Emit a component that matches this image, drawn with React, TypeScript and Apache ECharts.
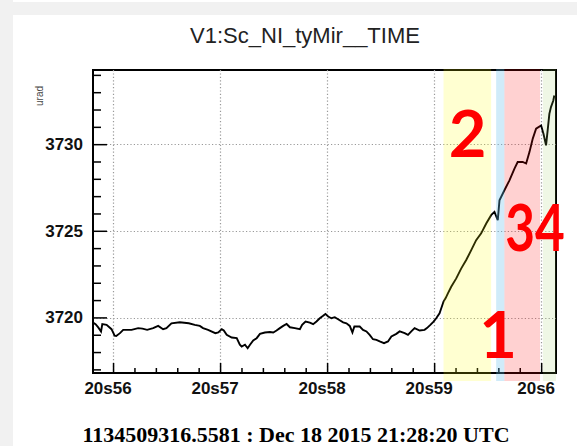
import React, { useEffect, useRef } from "react";
import * as echarts from "echarts";

// time in seconds after 21:20:00 ... displayed as "20sNN"
const times = [
  55.808, 55.832, 55.857, 55.883, 55.895, 55.935, 55.981, 56.01, 56.025, 56.06,
  56.09, 56.168, 56.23, 56.27, 56.314, 56.37, 56.417, 56.463, 56.494, 56.541,
  56.619, 56.66, 56.703, 56.759, 56.806, 56.836, 56.883, 56.951, 56.979, 57.011,
  57.03, 57.057, 57.104, 57.151, 57.18, 57.197, 57.228, 57.253, 57.275, 57.305,
  57.337, 57.368, 57.414, 57.461, 57.492, 57.523, 57.554, 57.585, 57.617, 57.648,
  57.694, 57.741, 57.762, 57.794, 57.834, 57.865, 57.896, 57.927, 57.958, 57.98,
  58.005, 58.036, 58.067, 58.098, 58.145, 58.176, 58.207, 58.232, 58.25, 58.27,
  58.3, 58.331, 58.363, 58.393, 58.424, 58.456, 58.487, 58.527, 58.564, 58.596,
  58.642, 58.673, 58.72, 58.751, 58.782, 58.813, 58.86, 58.906, 58.928, 58.96,
  58.99, 59.015, 59.046, 59.062, 59.083, 59.102, 59.124, 59.155, 59.202, 59.249,
  59.295, 59.342, 59.388, 59.435, 59.482, 59.528, 59.559, 59.59, 59.606, 59.652,
  59.699, 59.746, 59.776, 59.823, 59.855, 59.886, 59.917, 59.948, 59.995, 60.017,
  60.041, 60.056, 60.072, 60.087, 60.109, 60.118,
];
const values = [
  3719.73, 3719.64, 3719.45, 3719.21, 3719.64, 3719.6, 3719.35, 3718.98, 3718.96, 3719.12,
  3719.31, 3719.31, 3719.41, 3719.38, 3719.31, 3719.41, 3719.54, 3719.35, 3719.41, 3719.69,
  3719.75, 3719.72, 3719.69, 3719.6, 3719.54, 3719.41, 3719.31, 3719.12, 3719.16, 3719.35,
  3719.27, 3719.02, 3718.87, 3718.83, 3718.45, 3718.35, 3718.45, 3718.25, 3718.45, 3718.7,
  3718.83, 3719.08, 3719.16, 3719.19, 3719.16, 3719.27, 3719.41, 3719.54, 3719.65, 3719.46,
  3719.41, 3719.35, 3719.6, 3719.79, 3719.73, 3719.64, 3719.79, 3719.98, 3720.12, 3720.23,
  3720.08, 3719.98, 3720.04, 3719.92, 3719.74, 3719.69, 3719.54, 3719.16, 3719.5, 3719.5,
  3719.5, 3719.31, 3719.22, 3719.02, 3718.77, 3718.73, 3718.64, 3718.54, 3718.64, 3718.93,
  3719.08, 3719.22, 3719.12, 3719.02, 3719.22, 3719.41, 3719.27, 3719.31, 3719.41, 3719.6,
  3719.79, 3719.98, 3720.27, 3720.56, 3720.94, 3721.13, 3721.42, 3721.8, 3722.28, 3722.86,
  3723.34, 3723.91, 3724.49, 3724.88, 3725.45, 3725.93, 3726.12, 3725.64, 3726.79, 3727.37,
  3727.94, 3728.62, 3729.0, 3729.0, 3728.91, 3729.57, 3730.35, 3730.92, 3731.11, 3730.63,
  3729.96, 3730.82, 3731.78, 3732.17, 3732.55, 3732.84,
];

const xTickValues = [56, 57, 58, 59, 60];
const xTickLabels = ["20s56", "20s57", "20s58", "20s59", "20s6"];
const yTickValues = [3720, 3725, 3730];

// highlighted time segments (annotation bands)
const bandStarts = [59.083, 59.575, 59.652, 60.012];
const bandEnds = [59.528, 59.652, 59.985, 60.134];
const bandColors = [
  "rgba(255,255,0,0.18)",
  "rgba(100,190,235,0.3)",
  "rgba(255,0,0,0.18)",
  "rgba(150,200,80,0.15)",
];

const X_MIN = 55.808;
const X_MAX = 60.134;
const Y_MIN = 3716.82;
const Y_MAX = 3734.31;

const title = "V1:Sc_NI_tyMir__TIME";
const yUnit = "urad";
const footer = "1134509316.5581 : Dec 18 2015 21:28:20 UTC";

const near = (a: number, b: number) => Math.abs(a - b) < 1e-6;

// tick positions: majors plus 5 subdivisions on x, 1-unit steps on y
const xTicks: number[][] = [];
for (let i = 0; i < xTickValues.length; i++) {
  xTicks.push([xTickValues[i], 1]);
  if (i < xTickValues.length - 1) {
    for (let k = 1; k < 5; k++) xTicks.push([+(xTickValues[i] + k * 0.2).toFixed(3), 0]);
  }
}
const yTicks: number[][] = [];
for (let v = Math.ceil(Y_MIN); v <= Math.floor(Y_MAX); v++) {
  yTicks.push([v, yTickValues.includes(v) ? 1 : 0]);
}

export default function App() {
  const ref = useRef<HTMLDivElement>(null);
  useEffect(() => {
    if (!ref.current) return;
    const chart = echarts.init(ref.current, null, { renderer: "svg" });
    const lineData = times.map((t, i) => [t, values[i]]);
    const bandData = bandStarts.map((s, i) => [s, bandEnds[i]]);
    const labelFont = {
      fontFamily: "Liberation Sans, Arial, sans-serif",
      fontWeight: "bold" as const,
      fontSize: 17,
      color: "#111",
    };
    const txt = (text: string, x: number, y: number, extra: any) => ({
      type: "text",
      x,
      y,
      z: 200,
      ...(extra.rotation ? { rotation: extra.rotation } : {}),
      ...(extra.scaleX ? { scaleX: extra.scaleX } : {}),
      style: {
        text,
        align: "center",
        verticalAlign: "middle",
        textAlign: "center",
        textVerticalAlign: "middle",
        ...extra.style,
      },
    });
    const digitStyle = (scaleX?: number) => ({
      scaleX,
      style: { fill: "#ff0000", fontSize: 65, fontWeight: "bold", fontFamily: "Lato, sans-serif" },
    });
    chart.setOption({
      animation: false,
      backgroundColor: "#f1f1f1",
      grid: {
        left: 93,
        right: 21,
        top: 70,
        bottom: 73,
        show: true,
        backgroundColor: "#fff",
        borderColor: "#000",
        borderWidth: 2,
        containLabel: false,
      },
      xAxis: {
        type: "value",
        min: X_MIN,
        max: X_MAX,
        splitNumber: 4,
        axisLine: { show: true, lineStyle: { color: "#000", width: 2 } },
        axisTick: { show: false },
        minorTick: { show: false },
        splitLine: {
          show: true,
          showMinLine: false,
          showMaxLine: false,
          lineStyle: { color: "#999", width: 1.2, type: [1.2, 2.2] },
        },
        axisLabel: {
          ...labelFont,
          margin: 7,
          padding: [0, 11, 0, 0],
          formatter: (v: number) => {
            const i = xTickValues.findIndex((t) => near(t, v));
            return i >= 0 ? xTickLabels[i] : "";
          },
        },
      },
      yAxis: {
        type: "value",
        min: Y_MIN,
        max: Y_MAX,
        splitNumber: 3,
        axisLine: { show: true, lineStyle: { color: "#000", width: 2 } },
        axisTick: { show: false },
        minorTick: { show: false },
        splitLine: {
          show: true,
          showMinLine: false,
          showMaxLine: false,
          lineStyle: { color: "#999", width: 1.2, type: [1.2, 2.2] },
        },
        axisLabel: {
          ...labelFont,
          margin: 10,
          formatter: (v: number) => (yTickValues.some((t) => near(t, v)) ? String(Math.round(v)) : ""),
        },
      },
      series: [
        {
          type: "line",
          data: lineData,
          showSymbol: false,
          symbol: "none",
          z: 3,
          lineStyle: { color: "#000", width: 1.9, join: "miter" },
        },
        {
          type: "custom",
          data: xTicks,
          clip: false,
          z: 4,
          silent: true,
          encode: { x: 0 },
          renderItem: (params: any, api: any) => {
            const p = api.coord([api.value(0), Y_MIN]);
            const len = api.value(1) ? 10 : 5;
            return {
              type: "line",
              shape: { x1: p[0], y1: p[1], x2: p[0], y2: p[1] - len },
              style: { stroke: "#000", lineWidth: 1.5 },
            };
          },
        },
        {
          type: "custom",
          data: yTicks,
          clip: false,
          z: 4,
          silent: true,
          encode: { y: 0 },
          renderItem: (params: any, api: any) => {
            const p = api.coord([X_MIN, api.value(0)]);
            const len = api.value(1) ? 14 : 8;
            return {
              type: "line",
              shape: { x1: p[0], y1: p[1], x2: p[0] + len, y2: p[1] },
              style: { stroke: "#000", lineWidth: 1.5 },
            };
          },
        },
        {
          type: "custom",
          data: bandData,
          clip: false,
          z: 10,
          silent: true,
          encode: { x: [0, 1] },
          renderItem: (params: any, api: any) => {
            const p0 = api.coord([api.value(0), Y_MAX]);
            const p1 = api.coord([api.value(1), Y_MIN]);
            return {
              type: "rect",
              shape: { x: p0[0], y: p0[1] - 1, width: p1[0] - p0[0], height: p1[1] - p0[1] + 9 },
              style: { fill: bandColors[params.dataIndex] },
            };
          },
        },
      ],
      graphic: [
        { type: "rect", z: -10, silent: true, shape: { x: 13, y: 15, width: 570, height: 440 }, style: { fill: "#fff" } },
        { type: "rect", z: -10, silent: true, shape: { x: 13, y: 0, width: 570, height: 2 }, style: { fill: "#fff" } },
        txt(title, 305, 35, {
          style: { fill: "#222", fontSize: 22, fontFamily: "Liberation Sans, Arial, sans-serif" },
        }),
        txt(yUnit, 39, 96, {
          rotation: Math.PI / 2,
          style: { fill: "#444", fontSize: 10, fontFamily: "Liberation Sans, Arial, sans-serif" },
        }),
        txt(footer, 296, 434, {
          style: {
            fill: "#000",
            fontSize: 22,
            fontWeight: "bold",
            fontFamily: "Liberation Serif, Times New Roman, serif",
          },
        }),
        txt("2", 467.5, 132, digitStyle()),
        txt("34", 535, 225, digitStyle(0.79)),
        txt("1", 498, 333, digitStyle()),
      ],
    });
    return () => chart.dispose();
  }, []);
  return <div ref={ref} style={{ position: "fixed", left: 0, top: 0, width: 577, height: 446 }} />;
}
